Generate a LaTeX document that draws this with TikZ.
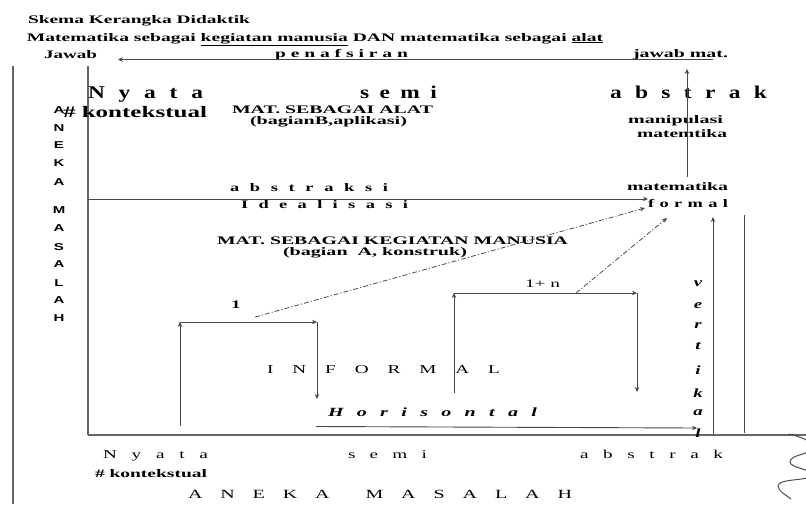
\documentclass[tikz,border=0pt]{standalone}
\usepackage{fontspec}
\usepackage{graphicx}
\setmainfont{Liberation Serif}
\newfontfamily\sansf{Liberation Sans}
\usetikzlibrary{arrows.meta}
\newcommand\fs[1]{\fontsize{#1}{#1}\selectfont}
% stretch a text horizontally to a given width (pt), keeping its height
\newcommand\fw[2]{\resizebox{#1pt}{\height}{#2}}
% letter-spaced text: spaces spread first, then the whole line widened by #1
\newcommand\sw[3]{\resizebox{#2pt}{\height}{\makebox[\fpeval{#2/#1}pt][s]{#3}}}
\tikzset{
  lbl/.style={inner sep=0pt, outer sep=0pt, anchor=base west},
  clbl/.style={inner sep=0pt, outer sep=0pt, anchor=base},
  ln/.style={line width=0.9pt, draw=black!72},
  frame/.style={line width=1.2pt, draw=black!60},
  arr/.style={ln, -{Stealth[length=5pt,width=4.5pt]}},
  dd/.style={line width=0.8pt, draw=black!70,
    dash pattern=on 5pt off 2pt on 1.2pt off 2pt,
    -{Stealth[length=5pt,width=4.5pt]}},
}
\begin{document}
\begin{tikzpicture}[x=1pt,y=-1pt]
\useasboundingbox[fill=white] (0,0) rectangle (806,504);

% ---------- frame lines ----------
\coordinate (olt) at (13,66);  \coordinate (olb) at (13,504);
\coordinate (ilt) at (88,66);  \coordinate (ilb) at (88,435);
\coordinate (axl) at (88,435); \coordinate (axr) at (806,435);
\draw[frame] (olt) -- (olb);
\draw[frame] (ilt) -- (ilb);
\draw[frame] (axl) -- (axr);

% ---------- headings ----------
\node[lbl] (title) at (28,23) {\bfseries\fs{11.5}\fw{222}{Skema Kerangka Didaktik}};
\node[lbl] (sub) at (27,41) {\bfseries\fs{11.5}\fw{576}{Matematika sebagai \underline{kegiatan manusia} DAN matematika sebagai \underline{alat}}};

\node[lbl] (jawab) at (44,58) {\bfseries\fs{11.5}\fw{53}{Jawab}};
\node[lbl] (penaf) at (275,57) {\bfseries\fs{11.5}\fw{133}{p e n a f s i r a n}};
\node[lbl] (jawabmat) at (633,57) {\bfseries\fs{11.5}\fw{95}{jawab mat.}};
\coordinate (penr) at (713,59.5);
\coordinate (penl) at (118,59.5);
\draw[arr] (penr) -- (penl);

% ---------- upper band ----------
\node[lbl] (nyata) at (88,98) {\bfseries\fs{18}\sw{1.3}{115}{N y a t a}};
\node[lbl] (semi) at (360,98) {\bfseries\fs{18}\sw{1.3}{77}{s e m i}};
\node[lbl] (abstrak) at (610,98) {\bfseries\fs{18}\sw{1.3}{157}{a b s t r a k}};
\node[lbl] (konteks) at (63,117) {\bfseries\fs{16}\fw{144}{\# kontekstual}};

\node[lbl] (alat) at (232,113.5) {\bfseries\fs{11.5}\fw{201}{MAT. SEBAGAI ALAT}};
\node[lbl] (bagB) at (250,124.5) {\bfseries\fs{11.5}\fw{157}{(bagianB,aplikasi)}};
\node[lbl] (manip) at (628,123) {\bfseries\fs{11.5}\fw{95}{manipulasi}};
\node[lbl] (matem) at (637,137) {\bfseries\fs{11.5}\fw{90}{matemtika}};

\node[lbl] (abstraksi) at (230,191) {\bfseries\fs{11.5}\sw{1.6}{158}{a b s t r a k s i}};
\node[lbl] (ideal) at (241,208) {\bfseries\fs{11.5}\sw{1.6}{167}{I d e a l i s a s i}};
\node[lbl] (matf) at (627,190) {\bfseries\fs{11.5}\fw{101}{matematika}};
\node[lbl] (formal) at (648,207) {\bfseries\fs{11.5}\sw{1.6}{80}{f o r m a l}};

\coordinate (midl) at (88,199);
\coordinate (midr) at (648,199);
\draw[arr] (midl) -- (midr);

\coordinate (upb) at (687,177);
\coordinate (upt) at (687,69);
\draw[arr] (upb) -- (upt);

% ---------- vertical label ANEKA MASALAH ----------
\foreach \ch/\yy [count=\i] in {A/113,N/131,E/148,K/166,A/185,M/213,A/231,S/250,A/267,L/286,A/303,H/321}
  \node[clbl] (am\i) at (59,\yy) {\sansf\bfseries\fs{10}\scalebox{1.5}[1]{\ch}};

% ---------- lower band ----------
\node[lbl] (kegiatan) at (217,244) {\bfseries\fs{11.5}\fw{351}{MAT. SEBAGAI KEGIATAN MANUSIA}};
\node[lbl] (bagA) at (283,255.5) {\bfseries\fs{11.5}\fw{184}{(bagian\ \ A, konstruk)}};

\node[clbl] (one) at (236,308) {\bfseries\fs{11.5}\scalebox{1.6}[1]{1}};
\node[lbl] (onen) at (525,287) {\fs{11.5}\fw{35}{1+ n}};

% first step
\coordinate (sa) at (180,426); \coordinate (sb) at (180,322);
\coordinate (sc) at (317,322); \coordinate (sd) at (317,399);
\draw[arr] (sa) -- (sb);
\draw[arr] (sb) -- (sc);
\draw[arr] (sc) -- (sd);

% step n
\coordinate (na) at (454,393); \coordinate (nb) at (454,293);
\coordinate (nc) at (637,293); \coordinate (nd) at (637,392);
\draw[arr] (na) -- (nb);
\draw[arr] (nb) -- (nc);
\draw[arr] (nc) -- (nd);

% links to formal mathematics
\coordinate (d1a) at (255,317); \coordinate (d1b) at (645,208);
\coordinate (d2a) at (576,293); \coordinate (d2b) at (667,218);
\draw[dd] (d1a) -- (d1b);
\draw[dd] (d2a) -- (d2b);

\node[lbl] (informal) at (267,373) {\fs{12}\sw{1.6}{233}{I N F O R M A L}};
\node[lbl] (horis) at (328,416) {\bfseries\itshape\fs{12.5}\sw{1.6}{209}{H o r i s o n t a l}};
\coordinate (hzl) at (316,426.5);
\coordinate (hzr) at (697,428);
\draw[arr] (hzl) -- (hzr);

% vertical mathematising
\coordinate (vtb) at (713,434); \coordinate (vtt) at (713,217);
\draw[arr] (vtb) -- (vtt);
\coordinate (vlt) at (744,215); \coordinate (vlb) at (744,433);
\draw[ln] (vlt) -- (vlb);
\foreach \ch/\yy [count=\i] in {v/286,e/308,r/328,t/349,i/374,k/397,a/415,l/437}
  \node[clbl] (vk\i) at (698,\yy) {\bfseries\itshape\fs{12.5}\scalebox{1.5}[1]{\ch}};

% ---------- bottom axis labels ----------
\node[lbl] (bnyata) at (103,458) {\fs{12}\sw{1.6}{105}{N y a t a}};
\node[lbl] (bsemi) at (348,458) {\fs{12}\sw{1.6}{79}{s e m i}};
\node[lbl] (babstrak) at (580,458) {\fs{12}\sw{1.6}{143}{a b s t r a k}};
\node[lbl] (bkonteks) at (95,477) {\bfseries\fs{11.5}\fw{112}{\# kontekstual}};
\node[lbl] (aneka) at (188,498) {\fs{12.5}\sw{1.6}{384}{A N E K A\ \ M A S A L A H}};

% ---------- wavy end mark ----------
\begin{scope}
  \clip (0,0) rectangle (806,504);
  \draw[line width=1pt, draw=black!70]
    (789,434) .. controls (800,437) and (812,440) .. (812,447)
    .. controls (812,455) and (790,454) .. (790,462)
    .. controls (790,468) and (812,469) .. (812,475)
    .. controls (812,481) and (778,478) .. (778,486)
    .. controls (778,491) and (786,495) .. (791,499);
\end{scope}
\end{tikzpicture}
\end{document}
